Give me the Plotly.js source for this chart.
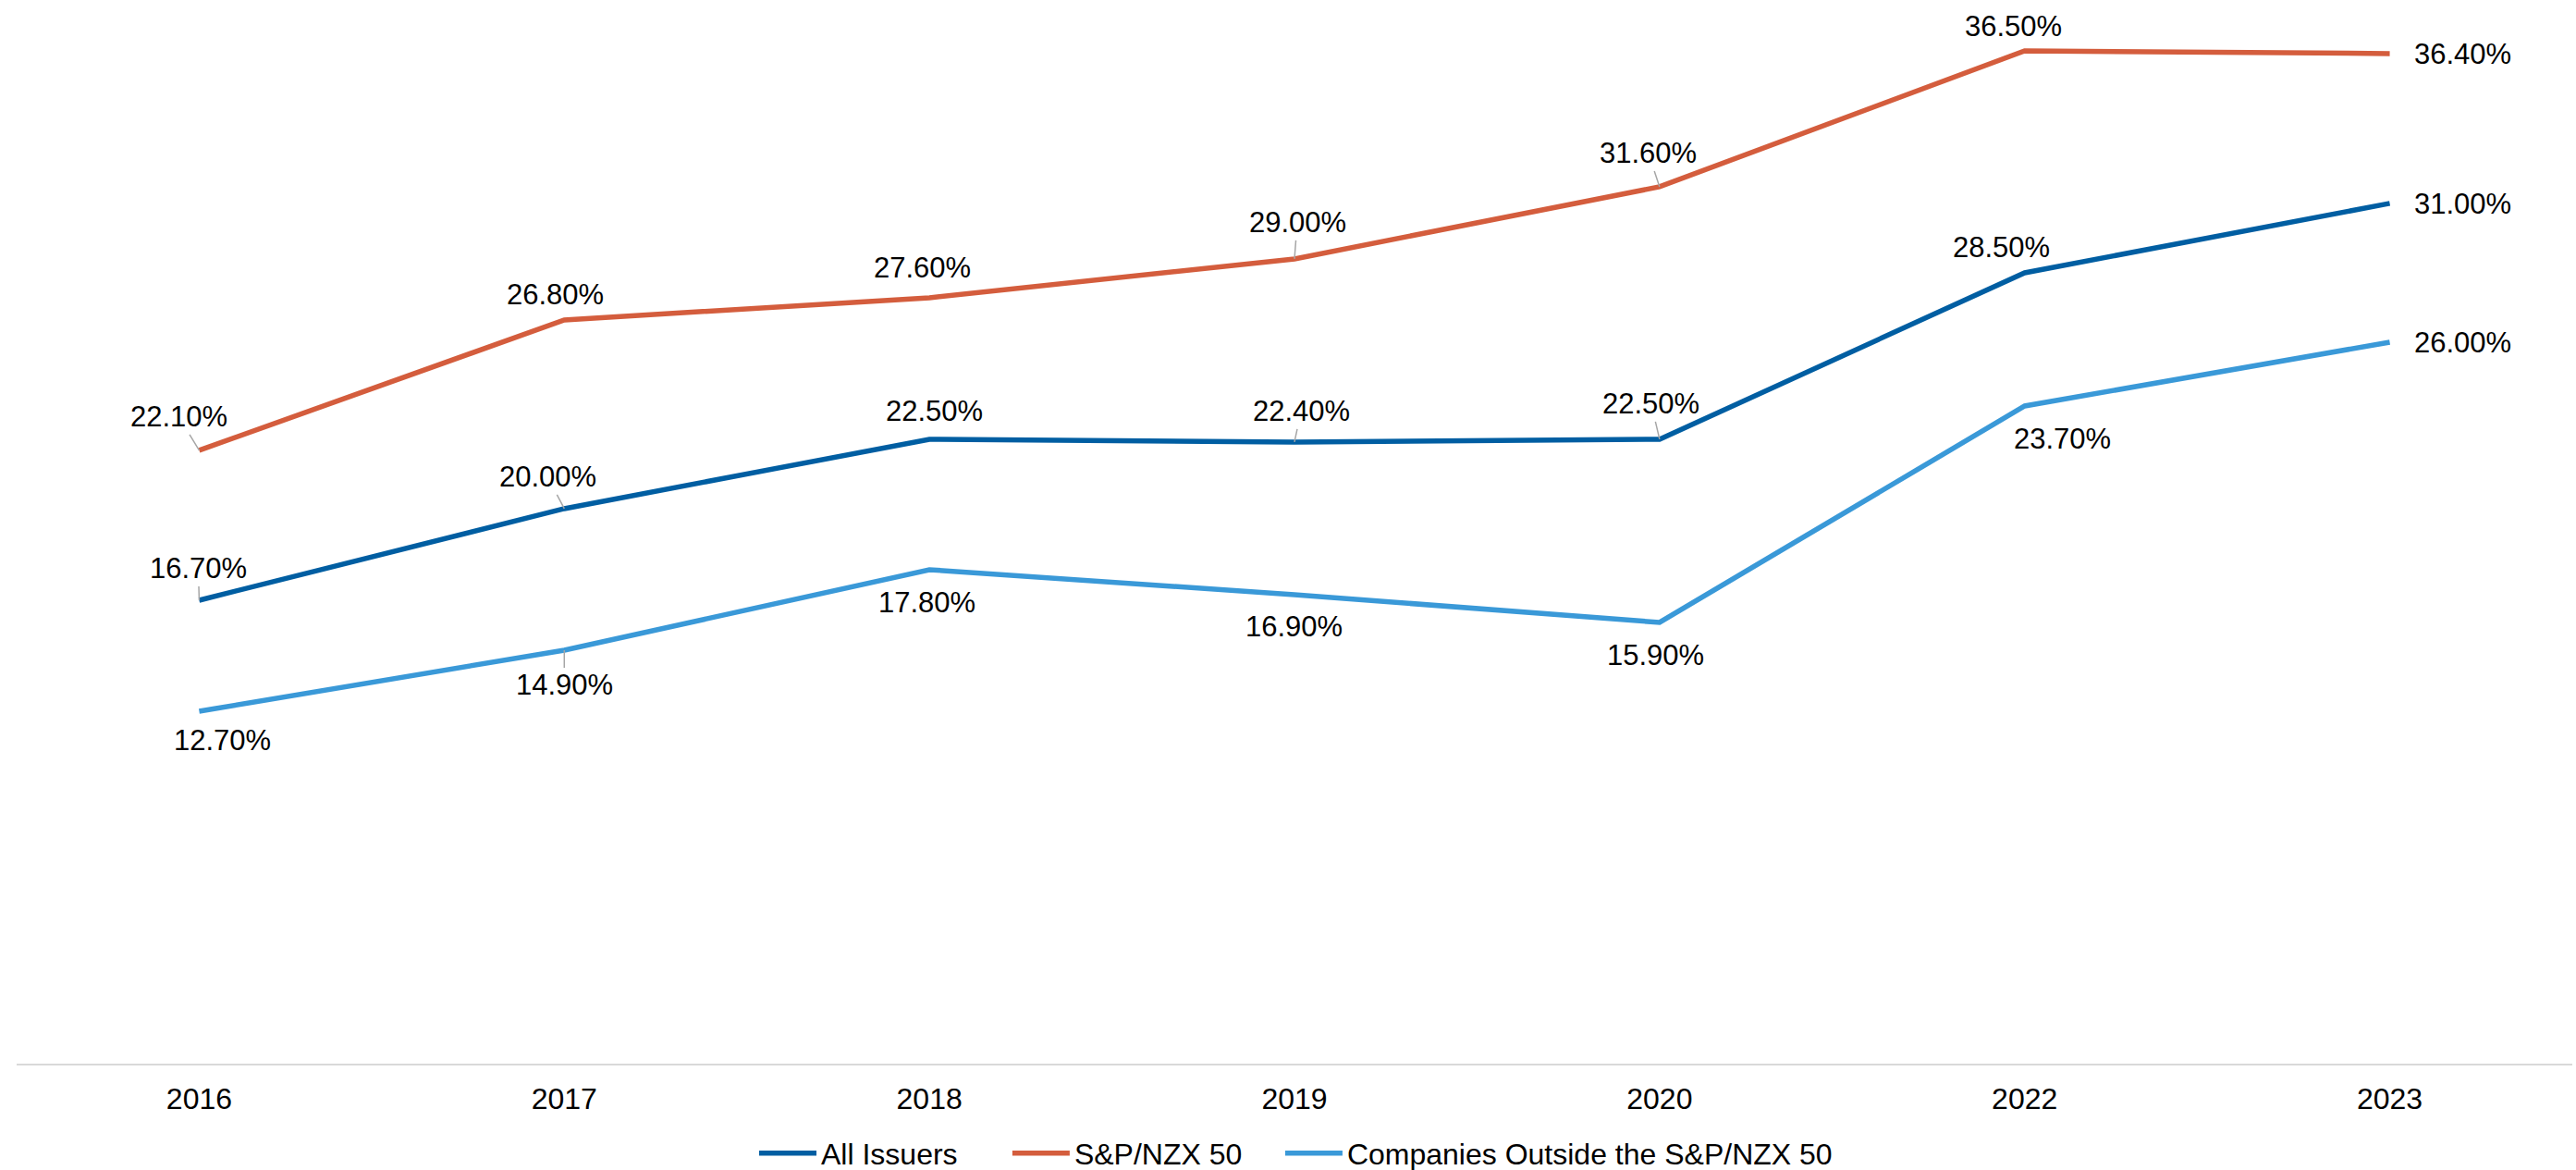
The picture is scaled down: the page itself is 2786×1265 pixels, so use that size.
<!DOCTYPE html>
<html>
<head>
<meta charset="utf-8">
<script src="https://cdn.plot.ly/plotly-3.0.1.min.js"></script>
<style>
  html, body { margin: 0; padding: 0; background: #ffffff; }
  #chart { width: 2786px; height: 1265px; }
</style>
</head>
<body>
<div id="chart"></div>
<script>
// ---- Data ----
const years = ["2016", "2017", "2018", "2019", "2020", "2022", "2023"];
const seriesNames = ["All Issuers", "S&P/NZX 50", "Companies Outside the S&P/NZX 50"];
const allIssuers = [16.7, 20.0, 22.5, 22.4, 22.5, 28.5, 31.0];
const spNzx50 = [22.1, 26.8, 27.6, 29.0, 31.6, 36.5, 36.4];
const outsideSpNzx50 = [12.7, 14.9, 17.8, 16.9, 15.9, 23.7, 26.0];

// ---- Styling / label placement (pixel offsets of each data label from its point) ----
const colors = ["#005EA2", "#D45D3D", "#3A99D8"];
const labelOffsets = [
  // All Issuers
  [[-1, -34, true], [-18, -34, true], [5, -30, false], [7, -33, true], [-9, -38, true], [-25, -27, false], [79, 1, false]],
  // S&P/NZX 50
  [[-22, -36, true], [-10, -27, false], [-8, -32, false], [3, -39, true], [-12, -36, true], [-12, -26, false], [79, 1, false]],
  // Outside
  [[25, 32, false], [0, 38, true], [-3, 36, false], [-1, 35, false], [-4, 36, false], [41, 36, false], [79, 1, false]]
];
// left edge (container fraction) of each legend entry
const legendX = [0.2929, 0.3912, 0.4971];

const seriesValues = [allIssuers, spNzx50, outsideSpNzx50];
const FONT = "'Liberation Sans', Arial, Helvetica, sans-serif";
const legendIds = ["legend", "legend2", "legend3"];

const traces = seriesValues.map((vals, i) => ({
  type: "scatter",
  mode: "lines",
  name: seriesNames[i],
  legend: legendIds[i],
  x: years,
  y: vals,
  line: { color: colors[i], width: 5.5 },
  hoverinfo: "x+y+name"
}));

const annotations = [];
seriesValues.forEach((vals, i) => {
  vals.forEach((v, j) => {
    const [dx, dy, leader] = labelOffsets[i][j];
    const txt = v.toFixed(2) + "%";
    const xi = years.indexOf(years[j]);
    if (leader) {
      annotations.push({
        x: xi, y: v, xref: "x", yref: "y",
        text: txt, showarrow: true, ax: dx, ay: dy,
        arrowhead: 0, arrowwidth: 1.5, arrowcolor: "#A6A6A6",
        standoff: 0,
        font: { family: FONT, size: 31, color: "#000000" }
      });
    } else {
      annotations.push({
        x: xi, y: v, xref: "x", yref: "y",
        text: txt, showarrow: false,
        xanchor: "center", yanchor: "middle",
        xshift: dx, yshift: -dy,
        font: { family: FONT, size: 31, color: "#000000" }
      });
    }
  });
});

function legendCfg(x) {
  return {
    orientation: "h",
    xref: "container", yref: "container",
    x: x, xanchor: "left",
    y: 0.0142, yanchor: "middle",
    font: { family: FONT, size: 32, color: "#000000" },
    itemwidth: 62,
    bgcolor: "rgba(0,0,0,0)",
    borderwidth: 0
  };
}

const layout = {
  width: 2786,
  height: 1265,
  margin: { l: 18, r: 4, t: 0, b: 115, autoexpand: false },
  paper_bgcolor: "#ffffff",
  plot_bgcolor: "#ffffff",
  font: { family: FONT, size: 32, color: "#000000" },
  showlegend: true,
  legend: legendCfg(legendX[0]),
  legend2: legendCfg(legendX[1]),
  legend3: legendCfg(legendX[2]),
  xaxis: {
    type: "category",
    range: [-0.5, 6.5],
    showline: true,
    linecolor: "#D9D9D9",
    linewidth: 2,
    showgrid: false,
    zeroline: false,
    ticks: "",
    ticklabelstandoff: 9,
    automargin: false,
    tickfont: { family: FONT, size: 32, color: "#000000" },
    fixedrange: true
  },
  yaxis: {
    range: [0, 38.33],
    visible: false,
    showgrid: false,
    zeroline: false,
    automargin: false,
    fixedrange: true
  },
  annotations: annotations
};

Plotly.newPlot("chart", traces, layout, { displayModeBar: false, staticPlot: true });
</script>
</body>
</html>
